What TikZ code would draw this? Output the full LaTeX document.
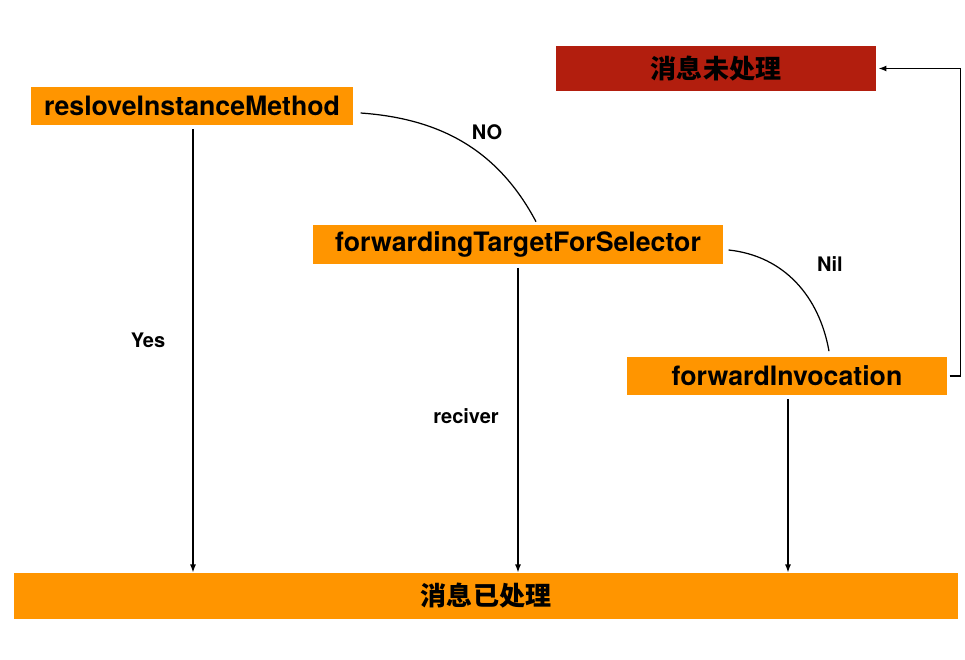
\documentclass[tikz,border=0pt]{standalone}
\usepackage{fontspec}
\setmainfont{TeX Gyre Heros}
\newfontfamily\cjk{Noto Sans CJK SC}
\usetikzlibrary{arrows.meta}
\definecolor{boxorange}{RGB}{255,149,0}
\definecolor{boxred}{RGB}{178,30,14}
\begin{document}
\begin{tikzpicture}[x=0.02cm,y=-0.02cm,line width=0.7pt,
box/.style={fill=boxorange,inner sep=0pt,minimum height=0.77cm,font=\fontsize{15.2}{18}\selectfont\bfseries},
lbl/.style={font=\fontsize{11.4}{13}\selectfont\bfseries},
arr/.style={-{Latex[length=4.5pt,width=3.4pt]}}]
\useasboundingbox (0,0) rectangle (965,660);
\node[box,minimum width=6.44cm] (rlv) at (192,106) {resloveInstanceMethod};
\node[box,minimum width=8.2cm] (fwd) at (518,244.5) {forwardingTargetForSelector};
\node[box,minimum width=6.4cm] (inv) at (787,376) {forwardInvocation};
\node[box,fill=boxred,minimum width=6.4cm,minimum height=0.9cm,font=\cjk\fontsize{14.8}{18}\selectfont\bfseries] (unh) at (716,68.5) {消息未处理};
\node[box,minimum width=18.88cm,minimum height=0.92cm,font=\cjk\fontsize{14.8}{18}\selectfont\bfseries] (done) at (486,596) {消息已处理};
% branches
\draw ([xshift=0.14cm,yshift=-0.14cm]rlv.east) to[out=-4,in=118] ([xshift=0.36cm,yshift=0.06cm]fwd.north);
\draw ([xshift=0.1cm,yshift=-0.11cm]fwd.east) to[out=-6,in=100] ([xshift=0.84cm,yshift=0.1cm]inv.north);
\node[lbl] (no) at (487,132) {NO};
\node[lbl] (nil) at (830,264) {Nil};
% down arrows
\draw[arr,shorten <=2pt] (rlv.south -| 193,0) -- (done.north -| 193,0);
\draw[arr,shorten <=2pt] (fwd.south) -- (done.north -| fwd.south);
\draw[arr,shorten <=2pt] (inv.south -| 788,0) -- (done.north -| 788,0);
\node[lbl] (yes) at (148,340) {Yes};
\node[lbl] (rcv) at (466,416) {reciver};
% back to unhandled
\draw[arr] ([xshift=0.04cm]inv.east) -- ++(11,0) |- ([xshift=0.04cm]unh.east);
\end{tikzpicture}
\end{document}
